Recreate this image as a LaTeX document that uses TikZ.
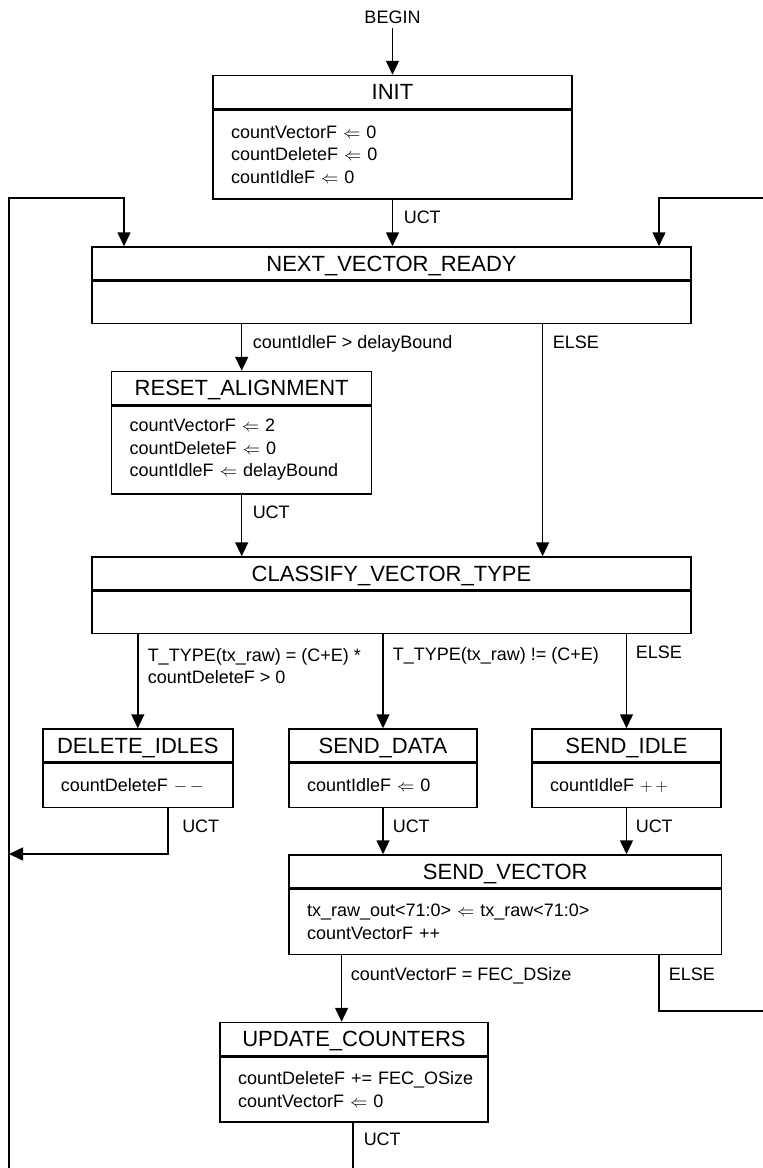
\documentclass[tikz,border=0pt]{standalone}
\usepackage{fontspec}
\setmainfont{Liberation Sans}
\usetikzlibrary{arrows.meta, positioning, calc}

\begin{document}
\begin{tikzpicture}[x=1pt, y=-1pt, line width=1.5pt,
  head/.style={draw, minimum height=33pt, inner sep=0pt, text height=15.8pt, text depth=0pt,
               font=\fontsize{22}{26}\selectfont},
  body/.style={draw, inner xsep=18pt, inner ysep=0pt, align=left,
               font=\fontsize{18}{22.5}\selectfont},
  flow/.style={-{Triangle[length=14pt, width=13pt]}},
  lbl/.style={anchor=base west, inner sep=0pt, align=left, font=\fontsize{18}{22.5}\selectfont}
]
  \useasboundingbox (0,0) rectangle (763,1168);

  % states
  \node[font=\fontsize{18}{22.5}\selectfont, inner sep=3.5pt] (begin) at (392.5,17) {BEGIN};

  \node[head, minimum width=359pt] (init) at (392.5,92) {INIT};
  \node[body, text width=323pt, minimum height=89pt, below=0pt of init] (initb)
    {countVectorF $\Leftarrow$ 0\\countDeleteF $\Leftarrow$ 0\\countIdleF $\Leftarrow$ 0};

  \node[head, minimum width=599pt] (nvr) at (391.5,263.5) {NEXT\_VECTOR\_READY};
  \node[body, text width=563pt, minimum height=42pt, below=0pt of nvr] (nvrb) {};

  \node[head, minimum width=260pt] (reset) at (241.7,388) {RESET\_ALIGNMENT};
  \node[body, text width=224pt, minimum height=88pt, below=0pt of reset] (resetb)
    {countVectorF $\Leftarrow$ 2\\countDeleteF $\Leftarrow$ 0\\countIdleF $\Leftarrow$ delayBound};

  \node[head, minimum width=599pt] (classify) at (391.5,573.5) {CLASSIFY\_VECTOR\_TYPE};
  \node[body, text width=563pt, minimum height=42pt, below=0pt of classify] (classifyb) {};

  \node[head, minimum width=190pt] (delidle) at (137.8,745.5) {DELETE\_IDLES};
  \node[body, text width=154pt, minimum height=44pt, below=0pt of delidle] (delidleb)
    {countDeleteF ${-}\,{-}$};

  \node[head, minimum width=188pt] (senddata) at (383,745.5) {SEND\_DATA};
  \node[body, text width=152pt, minimum height=44pt, below=0pt of senddata] (senddatab)
    {countIdleF $\Leftarrow$ 0};

  \node[head, minimum width=189pt] (sendidle) at (626.5,745.5) {SEND\_IDLE};
  \node[body, text width=153pt, minimum height=44pt, below=0pt of sendidle] (sendidleb)
    {countIdleF ${+}\,{+}$};

  \node[head, minimum width=432.6pt] (sendvec) at (505.3,871.5) {SEND\_VECTOR};
  \node[body, text width=396.6pt, minimum height=65pt, below=0pt of sendvec] (sendvecb)
    {tx\_raw\_out<71:0> $\Leftarrow$ tx\_raw<71:0>\\countVectorF ++};

  \node[head, minimum width=268pt] (update) at (354,1039) {UPDATE\_COUNTERS};
  \node[body, text width=232pt, minimum height=65pt, below=0pt of update] (updateb)
    {countDeleteF~+=~FEC\_OSize\\countVectorF $\Leftarrow$ 0};

  % loop ends and lanes
  \coordinate (ltop) at (124,198);
  \coordinate (lbot) at (9,1168);
  \coordinate (rin) at (659,198);
  \coordinate (rtop) at (763,198);
  \coordinate (rbot) at (763,1011);
  \coordinate (xelse) at (542.6,0);
  \coordinate (dback) at (9,854);
  \coordinate (xcount) at (341.6,0);
  \coordinate (ubot) at (353,1168);

  % transitions
  \draw[flow] (begin) -- (init);
  \draw[flow] (initb) -- (nvr.north -| initb.south);
  \draw[flow] (lbot) |- (ltop) -- (nvr.north -| ltop);
  \draw[flow] (rtop) -- (rin) -- (nvr.north -| rin);
  \draw[flow] (nvrb.south -| reset.north) -- (reset);
  \draw[flow] (nvrb.south -| xelse) -- (classify.north -| xelse);
  \draw[flow] (resetb) -- (classify.north -| resetb.south);
  \draw[flow] (classifyb.south -| delidle.north) -- (delidle);
  \draw[flow] (classifyb.south -| senddata.north) -- (senddata);
  \draw[flow] (classifyb.south -| sendidle.north) -- (sendidle);
  \draw[flow] ($(delidleb.south)+(30.2,0)$) |- (dback);
  \draw[flow] (senddatab) -- (sendvec.north -| senddatab.south);
  \draw[flow] (sendidleb) -- (sendvec.north -| sendidleb.south);
  \draw[flow] (sendvecb.south -| xcount) -- (update.north -| xcount);
  \draw (sendvecb.south -| rin) |- (rbot);
  \draw (updateb.south -| ubot) -- (ubot);

  % conditions
  \node[lbl] (c1) at (403,223.5) {UCT};
  \node[lbl] (c2) at (252,348.5) {countIdleF > delayBound};
  \node[lbl] (c3) at (552,348.5) {ELSE};
  \node[lbl] (c4) at (252,518.5) {UCT};
  \node[lbl] (c5) at (147,683.5) {T\_TYPE(tx\_raw) = (C+E) *\\countDeleteF > 0};
  \node[lbl] (c6) at (392,660.5) {T\_TYPE(tx\_raw) != (C+E)};
  \node[lbl] (c7) at (635,658.5) {ELSE};
  \node[lbl] (c8) at (181.5,832.5) {UCT};
  \node[lbl] (c9) at (392,832.5) {UCT};
  \node[lbl] (c10) at (635,832.5) {UCT};
  \node[lbl] (c11) at (350,980.5) {countVectorF = FEC\_DSize};
  \node[lbl] (c12) at (668,980) {ELSE};
  \node[lbl] (c13) at (363,1145.5) {UCT};
\end{tikzpicture}
\end{document}
